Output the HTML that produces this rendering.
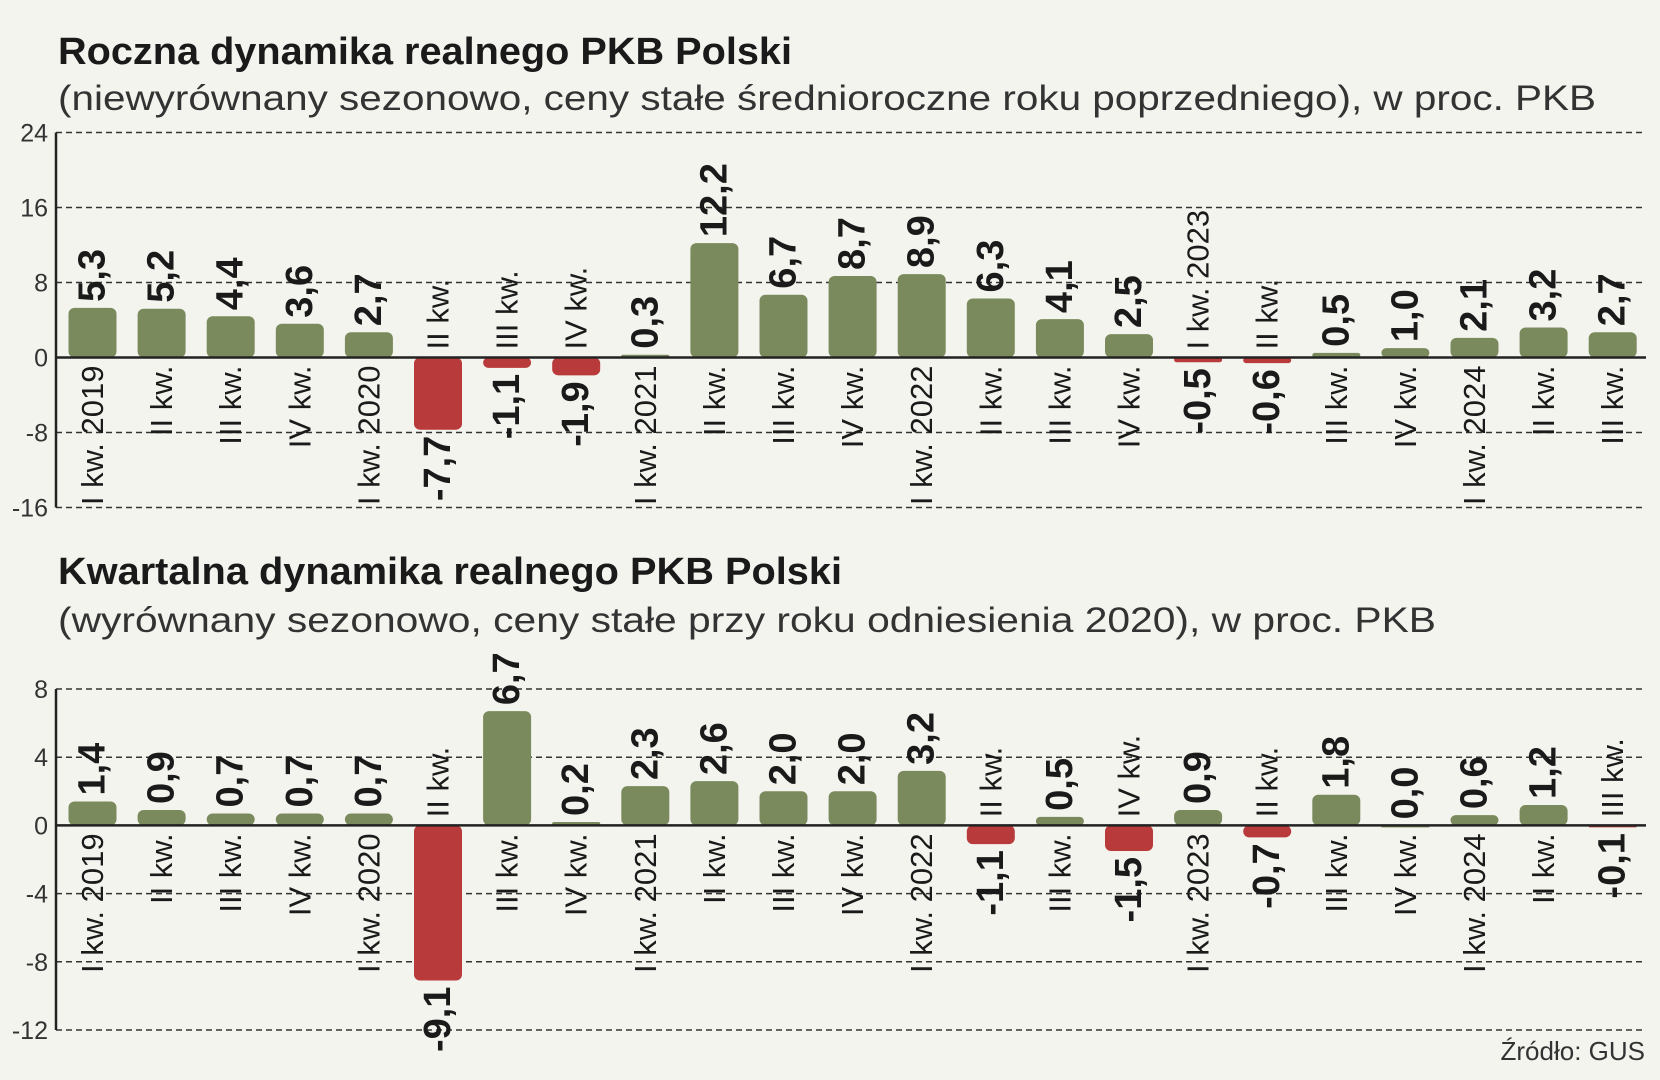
<!DOCTYPE html>
<html><head><meta charset="utf-8"><style>
html,body{margin:0;padding:0;background:#f4f4ef;}
svg{display:block;}
text{font-family:"Liberation Sans Narrow","Liberation Sans",sans-serif;fill:#1a1a1a;}
.t{font-weight:bold;font-size:38px;}
.s{font-size:35px;fill:#333;}
.tick{font-size:25px;fill:#333;}
.val{font-weight:bold;font-size:38px;}
.cat{font-size:31px;}
</style></head><body>
<svg id="chart" width="1660" height="1080" viewBox="0 0 1660 1080" xmlns="http://www.w3.org/2000/svg">
<rect width="1660" height="1080" fill="#f4f4ef"/>
<text class="t" x="58" y="64" textLength="734" lengthAdjust="spacingAndGlyphs">Roczna dynamika realnego PKB Polski</text>
<text class="s" x="58" y="110" textLength="1538" lengthAdjust="spacingAndGlyphs">(niewyrównany sezonowo, ceny stałe średnioroczne roku poprzedniego), w proc. PKB</text>
<text class="t" x="58" y="584" textLength="784" lengthAdjust="spacingAndGlyphs">Kwartalna dynamika realnego PKB Polski</text>
<text class="s" x="58" y="632" textLength="1378" lengthAdjust="spacingAndGlyphs">(wyrównany sezonowo, ceny stałe przy roku odniesienia 2020), w proc. PKB</text>
<text x="1645" y="1060" text-anchor="end" style="font-size:26px;fill:#333">Źródło: GUS</text>
<g id="top"></g>
<g id="bottom"></g>
</svg>
<script>
const categories = ["I kw. 2019","II kw.","III kw.","IV kw.","I kw. 2020","II kw.","III kw.","IV kw.","I kw. 2021","II kw.","III kw.","IV kw.","I kw. 2022","II kw.","III kw.","IV kw.","I kw. 2023","II kw.","III kw.","IV kw.","I kw. 2024","II kw.","III kw."];
const annualValues = [5.3,5.2,4.4,3.6,2.7,-7.7,-1.1,-1.9,0.3,12.2,6.7,8.7,8.9,6.3,4.1,2.5,-0.5,-0.6,0.5,1.0,2.1,3.2,2.7];
const quarterlyValues = [1.4,0.9,0.7,0.7,0.7,-9.1,6.7,0.2,2.3,2.6,2.0,2.0,3.2,-1.1,0.5,-1.5,0.9,-0.7,1.8,0.0,0.6,1.2,-0.1];
const annualTicks = [24,16,8,0,-8,-16];
const quarterlyTicks = [8,4,0,-4,-8,-12];

const NS = "http://www.w3.org/2000/svg";
function mk(tag, attrs, parent){const e=document.createElementNS(NS,tag);for(const k in attrs)e.setAttribute(k,attrs[k]);parent.appendChild(e);return e;}
function xPos(i){return 92.5 + i*69.1;}
function draw(gid, values, ticks, yTop, yBottom, prefix){
  const g=document.getElementById(gid);
  const max=ticks[0], min=ticks[ticks.length-1];
  const y=v=>yTop+(max-v)/(max-min)*(yBottom-yTop);
  const axisX=56, endX=1646;
  ticks.forEach(t=>{
    if(t!==0){
      const l=mk('line',{x1:axisX,x2:endX,y1:y(t),y2:y(t),stroke:'#333','stroke-width':1.5,'stroke-dasharray':'6 4'},g);
      
      
    }
    const tx=mk('text',{x:axisX-8,y:y(t)+9,'text-anchor':'end',class:'tick'},g);
    tx.textContent=String(t);
    
    
  });
  const ax=mk('line',{x1:axisX,x2:axisX,y1:y(max),y2:y(min),stroke:'#222','stroke-width':2.5},g);
  
  
  const bw=48, r=6;
  values.forEach((v,i)=>{
    const cx=xPos(i), y0=y(0), yv=y(v);
    const h=Math.abs(yv-y0);
    const top=Math.min(yv,y0);
    const b=mk('rect',{x:cx-bw/2,y:top,width:bw,height:Math.max(h,2),rx:Math.min(r,h/2),fill:v>=0?'#7a8a5c':'#b83a3a'},g);
    
    
    const label=v.toFixed(1).replace('.',',');
    let vy, vanchor, cy, canchor;
    if(v>=0){vy=yv-6;vanchor='start';cy=y0+8;canchor='end';}
    else{vy=yv+6;vanchor='end';cy=y0-8;canchor='start';}
    const vt=mk('text',{x:0,y:0,class:'val','text-anchor':vanchor,'dominant-baseline':'central',transform:`translate(${cx},${vy}) rotate(-90)`},g);
    vt.textContent=label;
    
    
    const ct=mk('text',{x:0,y:0,class:'cat','text-anchor':canchor,'dominant-baseline':'central',transform:`translate(${cx},${cy}) rotate(-90)`},g);
    ct.textContent=categories[i];
    
    
  });
  const z=mk('line',{x1:axisX,x2:endX,y1:y(0),y2:y(0),stroke:'#222','stroke-width':2.5},g);
  
  
}
draw('top', annualValues, annualTicks, 132.5, 507.5, 'annual');
draw('bottom', quarterlyValues, quarterlyTicks, 689, 1030, 'quarterly');
</script>
</body></html>
